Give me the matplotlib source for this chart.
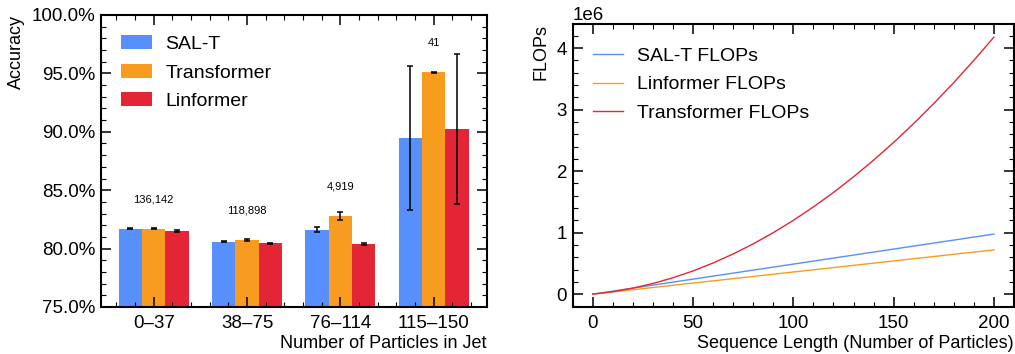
import matplotlib.pyplot as plt
from matplotlib.ticker import MultipleLocator, PercentFormatter

plt.rcParams['font.family'] = ['Liberation Sans', 'DejaVu Sans']

# accuracy per bin of particle multiplicity (%)
groups = ['0–37', '38–75', '76–114', '115–150']
counts = ['136,142', '118,898', '4,919', '41']
salt_acc = [81.70, 80.60, 81.62, 89.45]
salt_err = [0.02, 0.05, 0.20, 6.15]
trans_acc = [81.70, 80.75, 82.80, 95.10]
trans_err = [0.05, 0.08, 0.35, 0.05]
lin_acc = [81.52, 80.45, 80.40, 90.25]
lin_err = [0.08, 0.04, 0.07, 6.45]

# FLOPs vs sequence length
seq_len = [0, 10, 20, 30, 40, 50, 60, 70, 80, 90, 100,
           110, 120, 130, 140, 150, 160, 170, 180, 190, 200]
salt_flops = [0, 48900, 97700, 146600, 195400, 244300, 293100, 342000, 390800, 439700, 488500,
              537400, 586200, 635100, 683900, 732800, 781600, 830500, 879300, 928200, 977000]
lin_flops = [0, 36000, 72000, 108000, 144000, 180000, 216000, 252000, 288000, 324000, 360000,
             396000, 432000, 468000, 504000, 540000, 576000, 612000, 648000, 684000, 720000]
trans_flops = [0, 39900, 97600, 173100, 266400, 377500, 506400, 653100, 817600, 999900, 1200000,
               1417900, 1653600, 1907100, 2178400, 2467500, 2774400, 3099100, 3441600, 3801900, 4180000]

BLUE, ORANGE, RED = '#5790fc', '#f89c20', '#e42536'


def style_axes(ax):
    for s in ax.spines.values():
        s.set_linewidth(1.5)
    ax.tick_params(which='both', direction='in', top=True, right=True, labelsize=13.5)
    ax.tick_params(which='major', length=7, width=1.1, pad=4)
    ax.tick_params(which='minor', length=3.5, width=0.8)
    ax.tick_params(axis='x', which='major', pad=6)


fig = plt.figure(figsize=(10.15, 3.54), dpi=100)
ax1 = fig.add_axes([0.0995, 0.1328, 0.3803, 0.8249])
ax2 = fig.add_axes([0.5642, 0.1328, 0.4348, 0.7986])

# left: accuracy bars
w = 0.25
x = list(range(len(groups)))
ekw = dict(ecolor='black', elinewidth=1.1, capsize=2.5, capthick=1.1)
ax1.bar([i - w for i in x], salt_acc, w, yerr=salt_err, color=BLUE, label='SAL-T', error_kw=ekw)
ax1.bar(x, trans_acc, w, yerr=trans_err, color=ORANGE, label='Transformer', error_kw=ekw)
ax1.bar([i + w for i in x], lin_acc, w, yerr=lin_err, color=RED, label='Linformer', error_kw=ekw)

for i in x:
    top = max(salt_acc[i], trans_acc[i], lin_acc[i])
    ax1.text(i, top + 2.5, counts[i], ha='center', va='center', fontsize=8)

ax1.set_ylim(75, 100)
ax1.set_xlim(-0.565, 3.57)
ax1.set_xticks(x)
ax1.set_xticklabels(groups)
ax1.xaxis.set_minor_locator(MultipleLocator(0.2))
ax1.yaxis.set_major_locator(MultipleLocator(5))
ax1.yaxis.set_minor_locator(MultipleLocator(1))
ax1.yaxis.set_major_formatter(PercentFormatter(decimals=1))
ax1.set_ylabel('Accuracy', loc='top', fontsize=13, labelpad=5)
ax1.set_xlabel('Number of Particles in Jet', loc='right', fontsize=13, labelpad=2)
style_axes(ax1)
ax1.legend(loc='upper left', frameon=False, fontsize=14, handlelength=1.55, handleheight=0.72,
           handletextpad=0.7, labelspacing=0.55, borderaxespad=0.65)

# right: FLOPs curves
ax2.plot(seq_len, salt_flops, color=BLUE, lw=1.0, label='SAL-T FLOPs')
ax2.plot(seq_len, lin_flops, color=ORANGE, lw=1.0, label='Linformer FLOPs')
ax2.plot(seq_len, trans_flops, color=RED, lw=1.0, label='Transformer FLOPs')
ax2.xaxis.set_major_locator(MultipleLocator(50))
ax2.xaxis.set_minor_locator(MultipleLocator(10))
ax2.yaxis.set_major_locator(MultipleLocator(1e6))
ax2.yaxis.set_minor_locator(MultipleLocator(2e5))
ax2.yaxis.get_offset_text().set_fontsize(13.5)
ax2.set_ylabel('FLOPs', loc='top', fontsize=13, labelpad=5)
ax2.set_xlabel('Sequence Length (Number of Particles)', loc='right', fontsize=13, labelpad=2)
style_axes(ax2)
ax2.legend(loc='upper left', bbox_to_anchor=(0, 0.99), frameon=False, fontsize=14,
           handlelength=1.55, handletextpad=0.7, labelspacing=0.55, borderaxespad=0.65)

fig.savefig('out.png', dpi=100)
